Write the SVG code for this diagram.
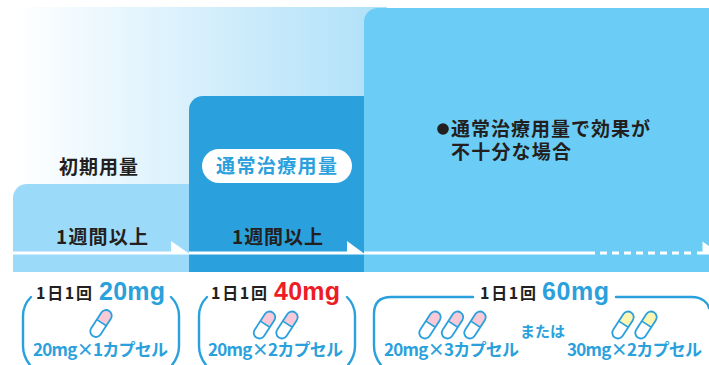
<svg xmlns="http://www.w3.org/2000/svg" width="709" height="365" viewBox="0 0 709 365">
<style>
text{font-family:"Noto Sans CJK JP","Noto Sans",sans-serif;font-weight:700}
.d{fill:#231f20;font-size:19px}
.c{fill:#2aa1dc;font-size:17px}
.o{fill:#231f20;font-size:16px}
.m{fill:#2aa1dc;font-size:25px;font-family:"Liberation Sans",sans-serif}
.b{fill:none;stroke:#2aa1dc;stroke-width:2.4;stroke-linecap:round}
.w{fill:#fff}
</style>
<defs>
<linearGradient id="g" x1="13" x2="387" y1="0" y2="0" gradientUnits="userSpaceOnUse"><stop offset="0" stop-color="#fff"/><stop offset="1" stop-color="#aee0f8"/></linearGradient>
<g id="pink"><rect x="-5.6" y="-15" width="11.2" height="30" rx="5.6" fill="#fff"/><path d="M-5.6 -1V-9.4A5.6 5.6 0 0 1 5.6 -9.4V-1Z" fill="#f9c9d8"/><path d="M-5.6 -1H5.6" stroke="#2aa1dc" stroke-width="1.6"/><rect x="-5.6" y="-15" width="11.2" height="30" rx="5.6" fill="none" stroke="#2aa1dc" stroke-width="1.8"/></g>
<g id="yellow"><rect x="-5.6" y="-15" width="11.2" height="30" rx="5.6" fill="#fff"/><path d="M-5.6 -1V-9.4A5.6 5.6 0 0 1 5.6 -9.4V-1Z" fill="#fdf6b2"/><path d="M-5.6 -1H5.6" stroke="#2aa1dc" stroke-width="1.6"/><rect x="-5.6" y="-15" width="11.2" height="30" rx="5.6" fill="none" stroke="#2aa1dc" stroke-width="1.8"/></g>
</defs>
<rect id="bg" x="13" y="7" width="374" height="265" fill="url(#g)"/>
<g id="step1"><path d="M13 272V198A14 14 0 0 1 27 184H189V272Z" fill="#9bdaf8"/>
<text class="d" x="59" y="174" textLength="79">初期用量</text>
<text class="d" x="56" y="243.5" textLength="92">1週間以上</text></g>
<g id="step2"><path d="M189 272V110A14 14 0 0 1 203 96H364V272Z" fill="#2aa1dc"/>
<rect x="202" y="149" width="150" height="34" rx="17" class="w"/>
<text class="d" x="216" y="173" textLength="121" style="fill:#2aa1dc">通常治療用量</text>
<text class="d" x="232" y="243.5" textLength="91">1週間以上</text></g>
<g id="step3"><path d="M364 272V22A14 14 0 0 1 378 8H709V272Z" fill="#6bcdf6"/>
<circle cx="443" cy="129" r="5.8" fill="#231f20"/>
<text class="d" x="451" y="136" textLength="199">通常治療用量で効果が</text>
<text class="d" x="451" y="159" textLength="120">不十分な場合</text></g>
<g id="connectors">
<path class="w" d="M13 251.5H171V241L189 253.5V254.5H13Z"/>
<path class="w" d="M189 251.5H347V241L364 253.5V254.5H189Z"/>
<rect class="w" x="364" y="251.5" width="231" height="3"/>
<path d="M600 253H692" stroke="#fff" stroke-width="3" stroke-dasharray="7 5" fill="none"/>
<path class="w" d="M697 251.5H702.5V241.5L709 246V254.5H697Z"/>
</g>
<g id="dose1">
<path class="b" d="M31 297C25 303 23 309 23 316V346C23 354 26 360 30 365"/>
<path class="b" d="M171 297C177 303 179 309 179 316V346C179 354 176 360 172 365"/>
<text class="o" x="36" y="299" textLength="56">1日1回</text>
<text class="m" x="99" y="300" textLength="66">20mg</text>
<use href="#pink" transform="translate(101 323.5) rotate(33)"/>
<text class="c" x="33" y="356" textLength="135">20mg×1カプセル</text></g>
<g id="dose2">
<path class="b" d="M207 297C201 303 199 309 199 316V346C199 354 202 360 206 365"/>
<path class="b" d="M347 297C353 303 355 309 355 316V346C355 354 352 360 348 365"/>
<text class="o" x="211" y="299" textLength="56">1日1回</text>
<text class="m" x="274" y="300" textLength="66" style="fill:#ee1c25">40mg</text>
<use href="#pink" transform="translate(264.5 325) rotate(33)"/>
<use href="#pink" transform="translate(287 325) rotate(33)"/>
<text class="c" x="208" y="356" textLength="135">20mg×2カプセル</text></g>
<g id="dose3">
<path class="b" d="M473 297H391C380 297 374 303 374 314V346C374 354 377 360 381 365"/>
<path class="b" d="M616 297H692C702 297 708 303 709 308"/>
<text class="o" x="480" y="299" textLength="56">1日1回</text>
<text class="m" x="542" y="300" textLength="67">60mg</text>
<use href="#pink" transform="translate(430 325) rotate(33)"/>
<use href="#pink" transform="translate(452.5 325) rotate(33)"/>
<use href="#pink" transform="translate(475 325) rotate(33)"/>
<use href="#yellow" transform="translate(623 325) rotate(33)"/>
<use href="#yellow" transform="translate(646 325) rotate(33)"/>
<text class="c" x="384" y="356" textLength="135">20mg×3カプセル</text>
<text class="c" x="520" y="337" textLength="45" style="font-size:15px">または</text>
<text class="c" x="567" y="356" textLength="135">30mg×2カプセル</text></g>
</svg>
